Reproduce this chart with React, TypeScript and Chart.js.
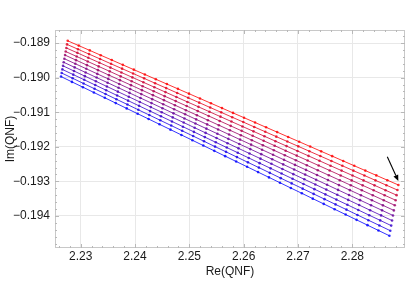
import React, { useEffect, useRef } from "react";
import { Chart, registerables } from "chart.js";
Chart.register(...registerables);

const X_MIN = 2.22527;
const X_MAX = 2.2897;
const Y_MIN = -0.19493;
const Y_MAX = -0.18862;
const X_STEP = 0.01;
const Y_STEP = 0.001;
const X_TITLE = "Re(QNF)";
const Y_TITLE = "Im(QNF)";
const ARROW_FROM = [2.28644, -0.192287];
const ARROW_TO = [2.28847, -0.192991];

const RE_SERIES: number[][] = [
  [2.22761, 2.22964, 2.23167, 2.23369, 2.23572, 2.23775, 2.23978, 2.24181, 2.24384, 2.24587, 2.2479, 2.24993, 2.25196, 2.25398, 2.25601, 2.25804, 2.26007, 2.2621, 2.26413, 2.26616, 2.26819, 2.27022, 2.27225, 2.27427, 2.2763, 2.27833, 2.28036, 2.28239, 2.28442, 2.28645, 2.28848],
  [2.22748, 2.22951, 2.23154, 2.23357, 2.23559, 2.23762, 2.23965, 2.24168, 2.2437, 2.24573, 2.24776, 2.24979, 2.25182, 2.25384, 2.25587, 2.2579, 2.25993, 2.26195, 2.26398, 2.26601, 2.26804, 2.27006, 2.27209, 2.27412, 2.27615, 2.27817, 2.2802, 2.28223, 2.28426, 2.28628, 2.28831],
  [2.22736, 2.22939, 2.23141, 2.23344, 2.23547, 2.23749, 2.23952, 2.24154, 2.24357, 2.2456, 2.24762, 2.24965, 2.25168, 2.2537, 2.25573, 2.25775, 2.25978, 2.26181, 2.26383, 2.26586, 2.26789, 2.26991, 2.27194, 2.27396, 2.27599, 2.27802, 2.28004, 2.28207, 2.28409, 2.28612, 2.28815],
  [2.22724, 2.22926, 2.23129, 2.23331, 2.23534, 2.23736, 2.23939, 2.24141, 2.24344, 2.24546, 2.24749, 2.24951, 2.25154, 2.25356, 2.25559, 2.25761, 2.25963, 2.26166, 2.26368, 2.26571, 2.26773, 2.26976, 2.27178, 2.27381, 2.27583, 2.27786, 2.27988, 2.28191, 2.28393, 2.28596, 2.28798],
  [2.22712, 2.22914, 2.23116, 2.23319, 2.23521, 2.23723, 2.23926, 2.24128, 2.2433, 2.24533, 2.24735, 2.24937, 2.2514, 2.25342, 2.25544, 2.25747, 2.25949, 2.26151, 2.26354, 2.26556, 2.26758, 2.26961, 2.27163, 2.27365, 2.27568, 2.2777, 2.27972, 2.28175, 2.28377, 2.28579, 2.28782],
  [2.22699, 2.22901, 2.23104, 2.23306, 2.23508, 2.2371, 2.23912, 2.24115, 2.24317, 2.24519, 2.24721, 2.24923, 2.25126, 2.25328, 2.2553, 2.25732, 2.25934, 2.26137, 2.26339, 2.26541, 2.26743, 2.26945, 2.27148, 2.2735, 2.27552, 2.27754, 2.27956, 2.28159, 2.28361, 2.28563, 2.28765],
  [2.22687, 2.22889, 2.23091, 2.23293, 2.23495, 2.23697, 2.23899, 2.24101, 2.24303, 2.24505, 2.24708, 2.2491, 2.25112, 2.25314, 2.25516, 2.25718, 2.2592, 2.26122, 2.26324, 2.26526, 2.26728, 2.2693, 2.27132, 2.27334, 2.27536, 2.27738, 2.2794, 2.28143, 2.28345, 2.28547, 2.28749],
  [2.22675, 2.22877, 2.23078, 2.2328, 2.23482, 2.23684, 2.23886, 2.24088, 2.2429, 2.24492, 2.24694, 2.24896, 2.25098, 2.253, 2.25501, 2.25703, 2.25905, 2.26107, 2.26309, 2.26511, 2.26713, 2.26915, 2.27117, 2.27319, 2.27521, 2.27723, 2.27925, 2.28126, 2.28328, 2.2853, 2.28732],
  [2.22662, 2.22864, 2.23066, 2.23268, 2.23469, 2.23671, 2.23873, 2.24075, 2.24277, 2.24478, 2.2468, 2.24882, 2.25084, 2.25285, 2.25487, 2.25689, 2.25891, 2.26093, 2.26294, 2.26496, 2.26698, 2.269, 2.27101, 2.27303, 2.27505, 2.27707, 2.27909, 2.2811, 2.28312, 2.28514, 2.28716],
  [2.2265, 2.22852, 2.23053, 2.23255, 2.23457, 2.23658, 2.2386, 2.24061, 2.24263, 2.24465, 2.24666, 2.24868, 2.2507, 2.25271, 2.25473, 2.25675, 2.25876, 2.26078, 2.2628, 2.26481, 2.26683, 2.26884, 2.27086, 2.27288, 2.27489, 2.27691, 2.27893, 2.28094, 2.28296, 2.28498, 2.28699],
  [2.22638, 2.22839, 2.23041, 2.23242, 2.23444, 2.23645, 2.23847, 2.24048, 2.2425, 2.24451, 2.24653, 2.24854, 2.25056, 2.25257, 2.25459, 2.2566, 2.25862, 2.26063, 2.26265, 2.26466, 2.26668, 2.26869, 2.27071, 2.27272, 2.27474, 2.27675, 2.27877, 2.28078, 2.2828, 2.28481, 2.28683],
];

const IM_SERIES: number[][] = [
  [-0.188933, -0.189072, -0.189211, -0.18935, -0.189489, -0.189629, -0.189768, -0.189907, -0.190046, -0.190185, -0.190324, -0.190463, -0.190602, -0.190741, -0.19088, -0.19102, -0.191159, -0.191298, -0.191437, -0.191576, -0.191715, -0.191854, -0.191993, -0.192132, -0.192271, -0.192411, -0.19255, -0.192689, -0.192828, -0.192967, -0.193106],
  [-0.189037, -0.189177, -0.189318, -0.189458, -0.189599, -0.189739, -0.18988, -0.19002, -0.190161, -0.190301, -0.190442, -0.190583, -0.190723, -0.190864, -0.191004, -0.191145, -0.191285, -0.191426, -0.191566, -0.191707, -0.191848, -0.191988, -0.192129, -0.192269, -0.19241, -0.19255, -0.192691, -0.192831, -0.192972, -0.193112, -0.193253],
  [-0.18914, -0.189282, -0.189424, -0.189566, -0.189708, -0.18985, -0.189992, -0.190134, -0.190276, -0.190418, -0.19056, -0.190702, -0.190844, -0.190986, -0.191128, -0.19127, -0.191412, -0.191554, -0.191696, -0.191838, -0.19198, -0.192122, -0.192264, -0.192406, -0.192548, -0.19269, -0.192832, -0.192974, -0.193116, -0.193258, -0.1934],
  [-0.189244, -0.189387, -0.18953, -0.189674, -0.189817, -0.189961, -0.190104, -0.190248, -0.190391, -0.190535, -0.190678, -0.190821, -0.190965, -0.191108, -0.191252, -0.191395, -0.191539, -0.191682, -0.191826, -0.191969, -0.192113, -0.192256, -0.192399, -0.192543, -0.192686, -0.19283, -0.192973, -0.193117, -0.19326, -0.193404, -0.193547],
  [-0.189347, -0.189492, -0.189637, -0.189782, -0.189927, -0.190072, -0.190216, -0.190361, -0.190506, -0.190651, -0.190796, -0.190941, -0.191086, -0.191231, -0.191376, -0.191521, -0.191665, -0.19181, -0.191955, -0.1921, -0.192245, -0.19239, -0.192535, -0.19268, -0.192825, -0.19297, -0.193114, -0.193259, -0.193404, -0.193549, -0.193694],
  [-0.189451, -0.189597, -0.189743, -0.18989, -0.190036, -0.190182, -0.190329, -0.190475, -0.190621, -0.190768, -0.190914, -0.19106, -0.191207, -0.191353, -0.191499, -0.191646, -0.191792, -0.191938, -0.192085, -0.192231, -0.192378, -0.192524, -0.19267, -0.192817, -0.192963, -0.193109, -0.193256, -0.193402, -0.193548, -0.193695, -0.193841],
  [-0.189554, -0.189702, -0.18985, -0.189997, -0.190145, -0.190293, -0.190441, -0.190589, -0.190736, -0.190884, -0.191032, -0.19118, -0.191328, -0.191475, -0.191623, -0.191771, -0.191919, -0.192067, -0.192214, -0.192362, -0.19251, -0.192658, -0.192806, -0.192953, -0.193101, -0.193249, -0.193397, -0.193545, -0.193692, -0.19384, -0.193988],
  [-0.189658, -0.189807, -0.189956, -0.190105, -0.190255, -0.190404, -0.190553, -0.190702, -0.190852, -0.191001, -0.19115, -0.191299, -0.191449, -0.191598, -0.191747, -0.191896, -0.192046, -0.192195, -0.192344, -0.192493, -0.192643, -0.192792, -0.192941, -0.19309, -0.19324, -0.193389, -0.193538, -0.193687, -0.193837, -0.193986, -0.194135],
  [-0.189761, -0.189912, -0.190062, -0.190213, -0.190364, -0.190515, -0.190665, -0.190816, -0.190967, -0.191117, -0.191268, -0.191419, -0.191569, -0.19172, -0.191871, -0.192022, -0.192172, -0.192323, -0.192474, -0.192624, -0.192775, -0.192926, -0.193076, -0.193227, -0.193378, -0.193529, -0.193679, -0.19383, -0.193981, -0.194131, -0.194282],
  [-0.189865, -0.190017, -0.190169, -0.190321, -0.190473, -0.190625, -0.190777, -0.19093, -0.191082, -0.191234, -0.191386, -0.191538, -0.19169, -0.191842, -0.191995, -0.192147, -0.192299, -0.192451, -0.192603, -0.192755, -0.192908, -0.19306, -0.193212, -0.193364, -0.193516, -0.193668, -0.19382, -0.193973, -0.194125, -0.194277, -0.194429],
  [-0.189968, -0.190122, -0.190275, -0.190429, -0.190582, -0.190736, -0.19089, -0.191043, -0.191197, -0.19135, -0.191504, -0.191658, -0.191811, -0.191965, -0.192118, -0.192272, -0.192426, -0.192579, -0.192733, -0.192886, -0.19304, -0.193194, -0.193347, -0.193501, -0.193654, -0.193808, -0.193962, -0.194115, -0.194269, -0.194422, -0.194576],
];

const FONT = "'Liberation Sans', Arial, sans-serif";
const TEXT_COLOR = "#1a1a1a";

function lineColor(n: number, total: number) {
  const t = total > 1 ? n / (total - 1) : 0;
  return `rgba(${Math.round(255 * (1 - t))},0,${Math.round(255 * t)},0.8)`;
}

const framePlugin = {
  id: "frame",
  beforeDatasetsDraw(chart: any) {
    const { ctx, chartArea, scales } = chart;
    const { left, right, top, bottom } = chartArea;
    const x = scales.x;
    const y = scales.y;
    ctx.save();
    ctx.strokeStyle = "#c8c8c8";
    ctx.lineWidth = 1;
    ctx.strokeRect(Math.round(left) + 0.5, Math.round(top) + 0.5, Math.round(right - left) - 1, Math.round(bottom - top) - 1);
    ctx.strokeStyle = "#b8b8b8";
    ctx.beginPath();
    const xm = X_STEP / 5;
    for (let k = Math.ceil(X_MIN / xm); k * xm <= X_MAX; k++) {
      const px = Math.round(x.getPixelForValue(k * xm)) + 0.5;
      const len = k % 5 === 0 ? 4 : 2;
      ctx.moveTo(px, bottom);
      ctx.lineTo(px, bottom - len);
      ctx.moveTo(px, top);
      ctx.lineTo(px, top + len);
    }
    const ym = Y_STEP / 5;
    for (let k = Math.ceil(Y_MIN / ym); k * ym <= Y_MAX; k++) {
      const py = Math.round(y.getPixelForValue(k * ym)) + 0.5;
      const len = Math.abs(k % 5) === 0 ? 4 : 2;
      ctx.moveTo(left, py);
      ctx.lineTo(left + len, py);
      ctx.moveTo(right, py);
      ctx.lineTo(right - len, py);
    }
    ctx.stroke();
    ctx.restore();
  },
};

const arrowPlugin = {
  id: "arrow",
  afterDatasetsDraw(chart: any) {
    const { ctx, scales } = chart;
    const x0 = scales.x.getPixelForValue(ARROW_FROM[0]);
    const y0 = scales.y.getPixelForValue(ARROW_FROM[1]);
    const x1 = scales.x.getPixelForValue(ARROW_TO[0]);
    const y1 = scales.y.getPixelForValue(ARROW_TO[1]);
    const ang = Math.atan2(y1 - y0, x1 - x0);
    const headLen = 6;
    const headW = 2.6;
    const bx = x1 - headLen * Math.cos(ang);
    const by = y1 - headLen * Math.sin(ang);
    ctx.save();
    ctx.strokeStyle = "#000";
    ctx.fillStyle = "#000";
    ctx.lineWidth = 1.1;
    ctx.beginPath();
    ctx.moveTo(x0, y0);
    ctx.lineTo(bx, by);
    ctx.stroke();
    ctx.beginPath();
    ctx.moveTo(x1, y1);
    ctx.lineTo(bx + headW * Math.sin(ang), by - headW * Math.cos(ang));
    ctx.lineTo(bx - headW * Math.sin(ang), by + headW * Math.cos(ang));
    ctx.closePath();
    ctx.fill();
    ctx.restore();
  },
};

export default function App() {
  const ref = useRef<HTMLCanvasElement>(null);
  useEffect(() => {
    document.body.style.margin = "0";
    const total = RE_SERIES.length;
    const datasets = RE_SERIES.map((re, n) => {
      const c = lineColor(n, total);
      return {
        data: re.map((xv, i) => ({ x: xv, y: IM_SERIES[n][i] })),
        showLine: true,
        borderColor: c,
        backgroundColor: c,
        borderWidth: 1,
        pointRadius: 1.3,
        pointBorderWidth: 0,
        pointHoverRadius: 0,
      };
    });
    const chart = new Chart(ref.current!, {
      type: "scatter",
      data: { datasets },
      plugins: [framePlugin, arrowPlugin],
      options: {
        animation: false,
        responsive: false,
        events: [],
        layout: { padding: { top: 30, right: 4, left: 0, bottom: 0 } },
        plugins: { legend: { display: false }, tooltip: { enabled: false } },
        scales: {
          x: {
            type: "linear",
            min: X_MIN,
            max: X_MAX,
            afterFit: (s: any) => {
              s.height = 59;
            },
            border: { display: false },
            grid: { color: "#e8e8e8", drawTicks: false, lineWidth: 1 },
            ticks: {
              stepSize: X_STEP,
              includeBounds: false,
              padding: 1,
              maxRotation: 0,
              color: TEXT_COLOR,
              font: { family: FONT, size: 12 },
              callback: (v: any) => Number(v).toFixed(2),
            },
            title: {
              display: true,
              text: X_TITLE,
              color: TEXT_COLOR,
              font: { family: FONT, size: 12 },
              padding: { top: 0, bottom: 28 },
            },
          },
          y: {
            type: "linear",
            min: Y_MIN,
            max: Y_MAX,
            afterFit: (s: any) => {
              s.width = 55;
            },
            border: { display: false },
            grid: { color: "#e8e8e8", drawTicks: false, lineWidth: 1 },
            ticks: {
              stepSize: Y_STEP,
              includeBounds: false,
              padding: 5,
              color: TEXT_COLOR,
              font: { family: FONT, size: 12 },
              callback: (v: any) => {
                const n = Number(v);
                return (n < 0 ? "\u2212" : "") + Math.abs(n).toFixed(3);
              },
            },
            title: {
              display: true,
              text: Y_TITLE,
              color: TEXT_COLOR,
              font: { family: FONT, size: 12 },
              padding: { top: 3, bottom: 0 },
            },
          },
        },
      },
    } as any);
    return () => chart.destroy();
  }, []);
  return (
    <div style={{ width: 409, height: 307, position: "relative", background: "#fff" }}>
      <canvas ref={ref} width={409} height={307} style={{ display: "block" }} />
    </div>
  );
}
